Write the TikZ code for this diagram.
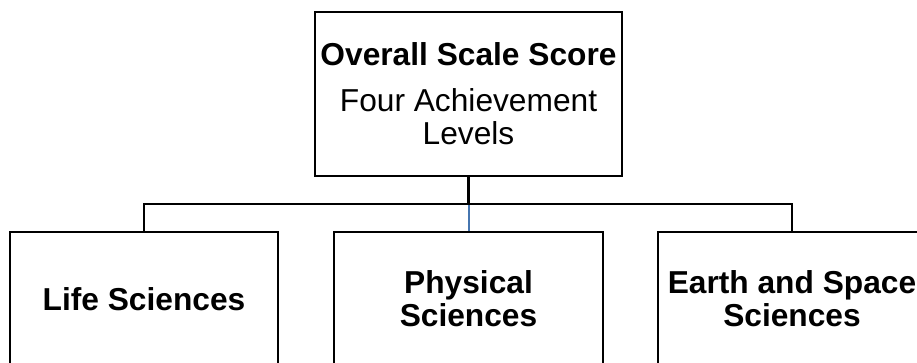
\documentclass[tikz,border=0pt]{standalone}
\usepackage{fontspec}
\setmainfont{Liberation Sans}
\usetikzlibrary{positioning}

\definecolor{droplink}{RGB}{70,118,176}

\tikzset{
  areabox/.style={draw, line width=2.6pt, minimum width=268pt, minimum height=134pt,
    inner sep=0pt, align=center, font=\fontsize{31.7}{33}\selectfont\bfseries},
  link/.style={line width=2.6pt},
}

\begin{document}
\begin{tikzpicture}[x=1pt,y=-1pt]
  \clip (0,0) rectangle (917,363);
  % top of the tree
  \node[draw, line width=2.6pt, minimum width=307pt, minimum height=164pt, inner sep=0pt,
        align=center, font=\fontsize{31.7}{33}\selectfont] (overall) at (468.5,94)
        {\textbf{Overall Scale Score}\\[13pt] Four Achievement\\ Levels};
  % the three content areas
  \node[areabox] (life) at (144,299) {Life Sciences};
  \node[areabox, minimum width=269pt] (physical) at (468.5,299) {Physical\\ Sciences};
  \node[areabox] (earth) at (792,299) {Earth and Space\\ Sciences};
  \coordinate (bar) at (468.5,204);
  % connectors
  \draw[droplink, line width=2pt] (bar) -- (physical.north);
  \draw[link] (overall.south) -- (bar);
  \draw[link] (life.north) |- (bar) -| (earth.north);
\end{tikzpicture}
\end{document}
